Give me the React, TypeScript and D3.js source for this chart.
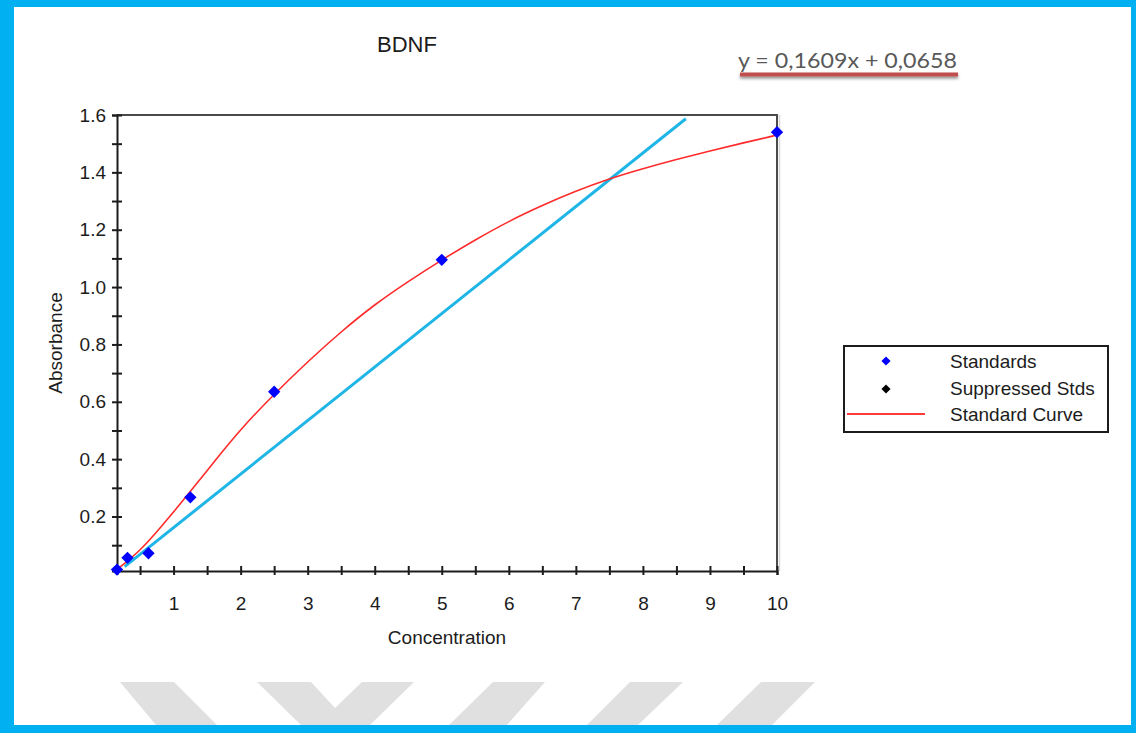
import React, { useEffect, useRef } from 'react';
import * as d3 from 'd3';

// standards (concentration, absorbance)
const stdConc = [0.156, 0.3125, 0.625, 1.25, 2.5, 5, 10];
const stdAbs = [0.015, 0.056, 0.072, 0.267, 0.635, 1.095, 1.54];

// fitted standard curve
const curveConc = [0.156, 0.5, 0.8, 1.2, 1.6, 2.0, 2.5, 3.0, 3.5, 4.0, 4.5, 5.0, 5.5, 6.0, 6.5, 7.0, 7.5, 8.0, 8.5, 9.0, 9.5, 10];
const curveAbs = [0.015, 0.08, 0.16, 0.272, 0.39, 0.505, 0.627, 0.74, 0.845, 0.94, 1.02, 1.095, 1.165, 1.23, 1.285, 1.335, 1.378, 1.413, 1.445, 1.475, 1.503, 1.53];

// linear trend line (drawn segment)
const trendConc = [0.27, 8.64];
const trendAbs = [0.025, 1.587];

const xTickValues = [0.5, 1, 1.5, 2, 2.5, 3, 3.5, 4, 4.5, 5, 5.5, 6, 6.5, 7, 7.5, 8, 8.5, 9, 9.5, 10];
const xTickLabels = ['1', '2', '3', '4', '5', '6', '7', '8', '9', '10'];
const yTickValues = [0.1, 0.2, 0.3, 0.4, 0.5, 0.6, 0.7, 0.8, 0.9, 1.0, 1.1, 1.2, 1.3, 1.4, 1.5, 1.6];
const yTickLabels = ['0.2', '0.4', '0.6', '0.8', '1.0', '1.2', '1.4', '1.6'];

const legendItems = ['Standards', 'Suppressed Stds', 'Standard Curve'];
const title = 'BDNF';
const equation = 'y = 0,1609x + 0,0658';

const W = 1136;
const H = 733;
const P = { left: 117, right: 777, top: 115, bottom: 571 };
const FONT = '"Liberation Sans", Arial, sans-serif';
const INK = '#1c1c1c';

const watermark = [
  [[120, 682], [174, 682], [217, 725], [156, 725]],
  [[257, 682], [311, 682], [335, 708], [362, 682], [414, 682], [370, 725], [301, 725]],
  [[493, 682], [545, 682], [507, 725], [449, 725]],
  [[630, 682], [683, 682], [638, 725], [587, 725]],
  [[761, 682], [815, 682], [772, 725], [717, 725]],
];

export default function App() {
  const ref = useRef<SVGSVGElement | null>(null);

  useEffect(() => {
    document.body.style.margin = '0';
    const svg = d3.select(ref.current);
    svg.selectAll('*').remove();

    const defs = svg.append('defs');
    const f = defs.append('filter').attr('id', 'ulshadow').attr('x', '-10%').attr('y', '-100%').attr('width', '120%').attr('height', '400%');
    f.append('feDropShadow').attr('dx', 0).attr('dy', 2).attr('stdDeviation', 1.5).attr('flood-color', '#000').attr('flood-opacity', 0.45);

    // frame
    svg.append('rect').attr('width', W).attr('height', H).attr('fill', '#00b0f0');
    svg.append('rect').attr('x', 14).attr('y', 7).attr('width', 1131 - 14).attr('height', 725 - 7).attr('fill', '#fff');

    svg.append('g')
      .selectAll('polygon')
      .data(watermark)
      .join('polygon')
      .attr('points', (d) => d.map((p) => p.join(',')).join(' '))
      .attr('fill', '#e0e0e0');

    const x = d3.scaleLinear().domain([0.156, 10]).range([P.left, P.right]);
    const y = d3.scaleLinear().domain([0.01, 1.6]).range([P.bottom, P.top]);

    // top / right frame of plot
    svg.append('path')
      .attr('d', `M${P.left},${P.top}H${P.right}V${P.bottom}`)
      .attr('fill', 'none')
      .attr('stroke', '#4a4a4a')
      .attr('stroke-width', 2);
    svg.append('line')
      .attr('x1', P.right + 2.5).attr('x2', P.right + 2.5)
      .attr('y1', P.top).attr('y2', P.bottom)
      .attr('stroke', '#d8d8d8').attr('stroke-width', 1.5);

    // x axis
    const xAxis = svg.append('g').attr('transform', `translate(0,${P.bottom})`);
    xAxis.call(
      d3.axisBottom(x)
        .tickValues(xTickValues)
        .tickSizeOuter(0)
        .tickSize(4)
        .tickPadding(22)
        .tickFormat((d) => {
          const i = xTickLabels.indexOf(String(d));
          return i >= 0 ? xTickLabels[i] : '';
        })
    );
    xAxis.select('.domain').attr('stroke', INK).attr('stroke-width', 2);
    xAxis.selectAll('.tick line').attr('y1', -5).attr('y2', 4).attr('stroke', INK).attr('stroke-width', 2);
    xAxis.selectAll('.tick text').attr('fill', INK).attr('font-size', 19).attr('font-family', FONT);

    // y axis
    const yAxis = svg.append('g').attr('transform', `translate(${P.left},0)`);
    yAxis.call(
      d3.axisLeft(y)
        .tickValues(yTickValues)
        .tickSizeOuter(0)
        .tickSize(5)
        .tickPadding(6)
        .tickFormat((d) => {
          const s = d3.format('.1f')(d as number);
          return yTickLabels.includes(s) ? s : '';
        })
    );
    yAxis.select('.domain').attr('stroke', INK).attr('stroke-width', 2);
    yAxis.selectAll('.tick line').attr('x1', -5).attr('x2', 5).attr('stroke', INK).attr('stroke-width', 2);
    yAxis.selectAll('.tick text').attr('fill', INK).attr('font-size', 19).attr('font-family', FONT);

    // trend line
    svg.append('path')
      .datum(trendConc.map((c, i) => [c, trendAbs[i]]))
      .attr('d', d3.line().x((d) => x(d[0])).y((d) => y(d[1])))
      .attr('fill', 'none')
      .attr('stroke', '#1fb5e6')
      .attr('stroke-width', 3);

    // standard curve
    svg.append('path')
      .datum(curveConc.map((c, i) => [c, curveAbs[i]]))
      .attr('d', d3.line().curve(d3.curveBasis).x((d) => x(d[0])).y((d) => y(d[1])))
      .attr('fill', 'none')
      .attr('stroke', '#ff2b2b')
      .attr('stroke-width', 1.6);

    // standards
    const diamond = d3.symbol(d3.symbolSquare, 76)();
    svg.append('g')
      .selectAll('path')
      .data(stdConc.map((c, i) => [c, stdAbs[i]]))
      .join('path')
      .attr('d', diamond)
      .attr('transform', (d) => `translate(${x(d[0])},${y(d[1])}) rotate(45)`)
      .attr('fill', '#0000ff');

    // titles
    svg.append('text')
      .attr('x', 407).attr('y', 52)
      .attr('text-anchor', 'middle')
      .attr('font-family', FONT).attr('font-size', 22)
      .attr('fill', INK)
      .text(title);

    svg.append('text')
      .attr('x', (P.left + P.right) / 2).attr('y', 644)
      .attr('text-anchor', 'middle')
      .attr('font-family', FONT).attr('font-size', 19)
      .attr('fill', INK)
      .text('Concentration');

    svg.append('text')
      .attr('transform', `translate(62,${(P.top + P.bottom) / 2}) rotate(-90)`)
      .attr('text-anchor', 'middle')
      .attr('font-family', FONT).attr('font-size', 19)
      .attr('fill', INK)
      .text('Absorbance');

    // equation with underline
    svg.append('rect')
      .attr('x', 740).attr('y', 72.5).attr('width', 218).attr('height', 4)
      .attr('fill', '#c0504d')
      .attr('filter', 'url(#ulshadow)');
    svg.append('text')
      .attr('x', 738).attr('y', 68)
      .attr('font-family', 'Lato, "Open Sans", sans-serif').attr('font-size', 22)
      .attr('textLength', 219).attr('lengthAdjust', 'spacingAndGlyphs')
      .attr('fill', '#595959')
      .text(equation);

    // legend
    const lg = svg.append('g');
    lg.append('rect')
      .attr('x', 844).attr('y', 346).attr('width', 264).attr('height', 86)
      .attr('fill', '#fff').attr('stroke', INK).attr('stroke-width', 2);
    const small = d3.symbol(d3.symbolSquare, 42)();
    lg.append('path').attr('d', small).attr('transform', 'translate(886,361) rotate(45)').attr('fill', '#0000ff');
    lg.append('path').attr('d', small).attr('transform', 'translate(886,389) rotate(45)').attr('fill', '#000');
    lg.append('line').attr('x1', 847).attr('x2', 925).attr('y1', 414).attr('y2', 414).attr('stroke', '#ff3b3b').attr('stroke-width', 2);
    lg.selectAll('text.lab')
      .data(legendItems)
      .join('text')
      .attr('class', 'lab')
      .attr('x', 950)
      .attr('y', (_, i) => 368 + i * 26.5)
      .attr('font-family', FONT).attr('font-size', 19)
      .attr('fill', INK)
      .text((d) => d);
  }, []);

  return <svg ref={ref} width={W} height={H} style={{ display: 'block' }} />;
}
